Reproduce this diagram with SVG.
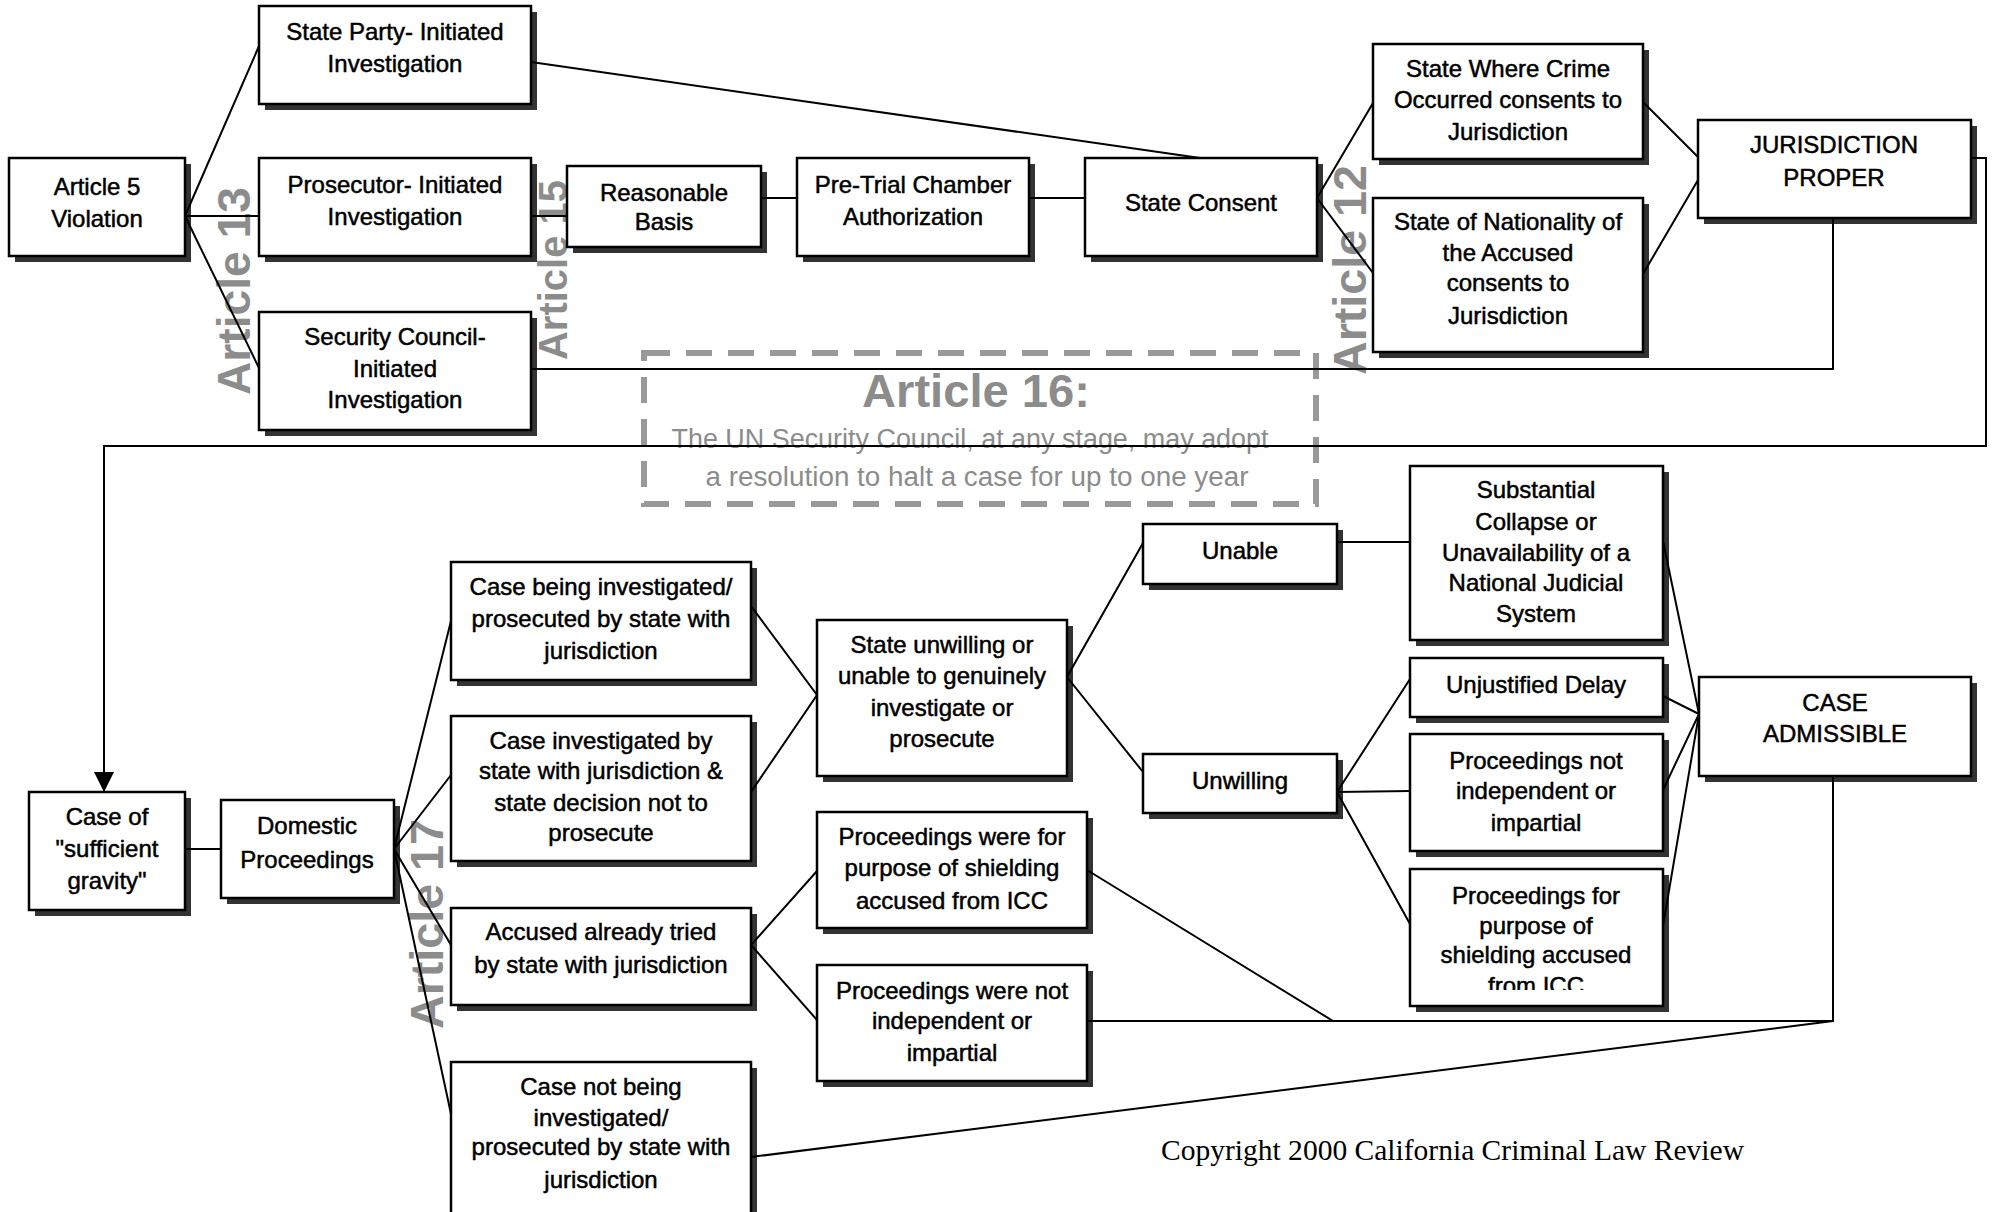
<svg xmlns="http://www.w3.org/2000/svg" width="1992" height="1212" viewBox="0 0 1992 1212">
<style>
.sh{fill:#333}
.b{fill:#fff;stroke:#000;stroke-width:2.5}
.t{font-family:"Liberation Sans",Arial,sans-serif;font-size:24px;text-anchor:middle;fill:#000;stroke:#000;stroke-width:0.5}
.c{stroke:#000;stroke-width:2;fill:none}
.art{font-family:"Liberation Sans",Arial,sans-serif;font-weight:bold;fill:#8c8c8c;text-anchor:middle}
.a16{font-family:"Liberation Sans",Arial,sans-serif;fill:#8c8c8c;text-anchor:middle}
</style>
<defs>
<marker id="arr" viewBox="0 0 20 20" refX="20" refY="10" markerWidth="20" markerHeight="20" markerUnits="userSpaceOnUse" orient="auto"><path d="M0,0 L20,10 L0,20 z" fill="#000"/></marker>
<clipPath id="clipPFP"><rect x="1405" y="865" width="265" height="125"/></clipPath>
</defs>
<rect width="1992" height="1212" fill="#fff"/>

<g id="labels">
<text class="art" font-size="46" transform="translate(250,291) rotate(-90)" textLength="208" lengthAdjust="spacingAndGlyphs">Article 13</text>
<text class="art" font-size="40" transform="translate(567,270) rotate(-90)" textLength="180" lengthAdjust="spacingAndGlyphs">Article 15</text>
<text class="art" font-size="46" transform="translate(1366,270) rotate(-90)" textLength="210" lengthAdjust="spacingAndGlyphs">Article 12</text>
<text class="art" font-size="46" transform="translate(443,924) rotate(-90)" textLength="210" lengthAdjust="spacingAndGlyphs">Article 17</text>
</g>

<g id="article16">
<rect x="644" y="353" width="672" height="151" fill="none" stroke="#999" stroke-width="6" stroke-dasharray="26 16"/>
<text class="a16" x="976" y="407" font-size="46" font-weight="bold" textLength="228" lengthAdjust="spacingAndGlyphs">Article 16:</text>
<text class="a16" x="970" y="448" font-size="27" textLength="597" lengthAdjust="spacingAndGlyphs">The UN Security Council, at any stage, may adopt</text>
<text class="a16" x="977" y="486" font-size="27" textLength="543" lengthAdjust="spacingAndGlyphs">a resolution to halt a case for up to one year</text>
</g>

<g id="n1"><rect class="sh" x="15" y="164" width="176" height="98"/><rect class="b" x="9" y="158" width="176" height="98"/><text class="t" x="97" y="195">Article 5</text><text class="t" x="97" y="227">Violation</text></g>
<g id="n2"><rect class="sh" x="265" y="12" width="272" height="98"/><rect class="b" x="259" y="6" width="272" height="98"/><text class="t" x="395" y="40">State Party- Initiated</text><text class="t" x="395" y="72">Investigation</text></g>
<g id="n3"><rect class="sh" x="265" y="164" width="272" height="98"/><rect class="b" x="259" y="158" width="272" height="98"/><text class="t" x="395" y="193">Prosecutor- Initiated</text><text class="t" x="395" y="225">Investigation</text></g>
<g id="n4"><rect class="sh" x="265" y="318" width="272" height="118"/><rect class="b" x="259" y="312" width="272" height="118"/><text class="t" x="395" y="345">Security Council-</text><text class="t" x="395" y="377">Initiated</text><text class="t" x="395" y="408">Investigation</text></g>
<g id="n5"><rect class="sh" x="573" y="172" width="194" height="81"/><rect class="b" x="567" y="166" width="194" height="81"/><text class="t" x="664" y="201">Reasonable</text><text class="t" x="664" y="230">Basis</text></g>
<g id="n6"><rect class="sh" x="803" y="164" width="232" height="98"/><rect class="b" x="797" y="158" width="232" height="98"/><text class="t" x="913" y="193">Pre-Trial Chamber</text><text class="t" x="913" y="225">Authorization</text></g>
<g id="n7"><rect class="sh" x="1091" y="164" width="232" height="98"/><rect class="b" x="1085" y="158" width="232" height="98"/><text class="t" x="1201" y="211">State Consent</text></g>
<g id="n8"><rect class="sh" x="1379" y="50" width="270" height="115"/><rect class="b" x="1373" y="44" width="270" height="115"/><text class="t" x="1508" y="77">State Where Crime</text><text class="t" x="1508" y="108">Occurred consents to</text><text class="t" x="1508" y="140">Jurisdiction</text></g>
<g id="n9"><rect class="sh" x="1379" y="204" width="270" height="154"/><rect class="b" x="1373" y="198" width="270" height="154"/><text class="t" x="1508" y="230">State of Nationality of</text><text class="t" x="1508" y="261">the Accused</text><text class="t" x="1508" y="291">consents to</text><text class="t" x="1508" y="324">Jurisdiction</text></g>
<g id="n10"><rect class="sh" x="1704" y="126" width="273" height="98"/><rect class="b" x="1698" y="120" width="273" height="98"/><text class="t" x="1834" y="153">JURISDICTION</text><text class="t" x="1834" y="186">PROPER</text></g>
<g id="n11"><rect class="sh" x="35" y="798" width="156" height="118"/><rect class="b" x="29" y="792" width="156" height="118"/><text class="t" x="107" y="825">Case of</text><text class="t" x="107" y="857">"sufficient</text><text class="t" x="107" y="889">gravity"</text></g>
<g id="n12"><rect class="sh" x="227" y="806" width="173" height="98"/><rect class="b" x="221" y="800" width="173" height="98"/><text class="t" x="307" y="834">Domestic</text><text class="t" x="307" y="868">Proceedings</text></g>
<g id="n13"><rect class="sh" x="457" y="568" width="300" height="118"/><rect class="b" x="451" y="562" width="300" height="118"/><text class="t" x="601" y="595">Case being investigated/</text><text class="t" x="601" y="627">prosecuted by state with</text><text class="t" x="601" y="659">jurisdiction</text></g>
<g id="n14"><rect class="sh" x="457" y="722" width="300" height="145"/><rect class="b" x="451" y="716" width="300" height="145"/><text class="t" x="601" y="749">Case investigated by</text><text class="t" x="601" y="779">state with jurisdiction &amp;</text><text class="t" x="601" y="811">state decision not to</text><text class="t" x="601" y="841">prosecute</text></g>
<g id="n15"><rect class="sh" x="457" y="914" width="300" height="97"/><rect class="b" x="451" y="908" width="300" height="97"/><text class="t" x="601" y="940">Accused already tried</text><text class="t" x="601" y="973">by state with jurisdiction</text></g>
<g id="n16"><rect class="sh" x="457" y="1068" width="300" height="170"/><rect class="b" x="451" y="1062" width="300" height="170"/><text class="t" x="601" y="1095">Case not being</text><text class="t" x="601" y="1126">investigated/</text><text class="t" x="601" y="1155">prosecuted by state with</text><text class="t" x="601" y="1188">jurisdiction</text></g>
<g id="n17"><rect class="sh" x="823" y="626" width="250" height="156"/><rect class="b" x="817" y="620" width="250" height="156"/><text class="t" x="942" y="653">State unwilling or</text><text class="t" x="942" y="684">unable to genuinely</text><text class="t" x="942" y="716">investigate or</text><text class="t" x="942" y="747">prosecute</text></g>
<g id="n18"><rect class="sh" x="1149" y="530" width="194" height="60"/><rect class="b" x="1143" y="524" width="194" height="60"/><text class="t" x="1240" y="559">Unable</text></g>
<g id="n19"><rect class="sh" x="1149" y="760" width="194" height="59"/><rect class="b" x="1143" y="754" width="194" height="59"/><text class="t" x="1240" y="789">Unwilling</text></g>
<g id="n20"><rect class="sh" x="823" y="818" width="270" height="116"/><rect class="b" x="817" y="812" width="270" height="116"/><text class="t" x="952" y="845">Proceedings were for</text><text class="t" x="952" y="876">purpose of shielding</text><text class="t" x="952" y="909">accused from ICC</text></g>
<g id="n21"><rect class="sh" x="823" y="971" width="270" height="116"/><rect class="b" x="817" y="965" width="270" height="116"/><text class="t" x="952" y="999">Proceedings were not</text><text class="t" x="952" y="1029">independent or</text><text class="t" x="952" y="1061">impartial</text></g>
<g id="n22"><rect class="sh" x="1416" y="472" width="253" height="174"/><rect class="b" x="1410" y="466" width="253" height="174"/><text class="t" x="1536" y="498">Substantial</text><text class="t" x="1536" y="530">Collapse or</text><text class="t" x="1536" y="561">Unavailability of a</text><text class="t" x="1536" y="591">National Judicial</text><text class="t" x="1536" y="622">System</text></g>
<g id="n23"><rect class="sh" x="1416" y="664" width="253" height="59"/><rect class="b" x="1410" y="658" width="253" height="59"/><text class="t" x="1536" y="693">Unjustified Delay</text></g>
<g id="n24"><rect class="sh" x="1416" y="740" width="253" height="117"/><rect class="b" x="1410" y="734" width="253" height="117"/><text class="t" x="1536" y="769">Proceedings not</text><text class="t" x="1536" y="799">independent or</text><text class="t" x="1536" y="831">impartial</text></g>
<g id="n25"><rect class="sh" x="1416" y="875" width="253" height="137"/><rect class="b" x="1410" y="869" width="253" height="137"/><g clip-path="url(#clipPFP)"><text class="t" x="1536" y="904">Proceedings for</text><text class="t" x="1536" y="934">purpose of</text><text class="t" x="1536" y="963">shielding accused</text><text class="t" x="1536" y="994">from ICC</text></g></g>
<g id="n26"><rect class="sh" x="1705" y="683" width="272" height="99"/><rect class="b" x="1699" y="677" width="272" height="99"/><text class="t" x="1835" y="711">CASE</text><text class="t" x="1835" y="742">ADMISSIBLE</text></g>

<g id="connectors" class="c">
<path d="M185,216 L259,46"/>
<path d="M185,216 L259,216"/>
<path d="M185,216 L259,368"/>
<path d="M531,62 L1200,158"/>
<path d="M531,216 L567,216"/>
<path d="M761,198 L797,198"/>
<path d="M1029,198 L1085,198"/>
<path d="M1317,198 L1373,103"/>
<path d="M1317,198 L1373,273"/>
<path d="M1643,102 L1698,157"/>
<path d="M1643,274 L1698,180"/>
<path d="M1833,218 L1833,369 L531,369"/>
<path d="M1971,158 L1986,158 L1986,446 L104,446 L104,792" marker-end="url(#arr)"/>
<path d="M185,849 L221,849"/>
<path d="M394,849 L451,621"/>
<path d="M394,849 L451,775"/>
<path d="M394,849 L451,945"/>
<path d="M394,849 L451,1114"/>
<path d="M751,606 L817,695 L751,792"/>
<path d="M817,871 L751,945 L817,1020"/>
<path d="M1143,543 L1067,677 L1143,772"/>
<path d="M1337,542 L1410,542"/>
<path d="M1410,679 L1337,792 L1410,924"/>
<path d="M1337,792 L1410,791"/>
<path d="M1663,541 L1699,714 L1663,926"/>
<path d="M1663,696 L1699,714 L1663,790"/>
<path d="M1087,870 L1333,1021"/>
<path d="M1087,1021 L1833,1021 L1833,776"/>
<path d="M751,1157 L1833,1021"/>
</g>

<text x="1161" y="1160" font-family="Liberation Serif,'Times New Roman',serif" font-size="29.5" textLength="583" lengthAdjust="spacingAndGlyphs" fill="#000">Copyright 2000 California Criminal Law Review</text>
</svg>
